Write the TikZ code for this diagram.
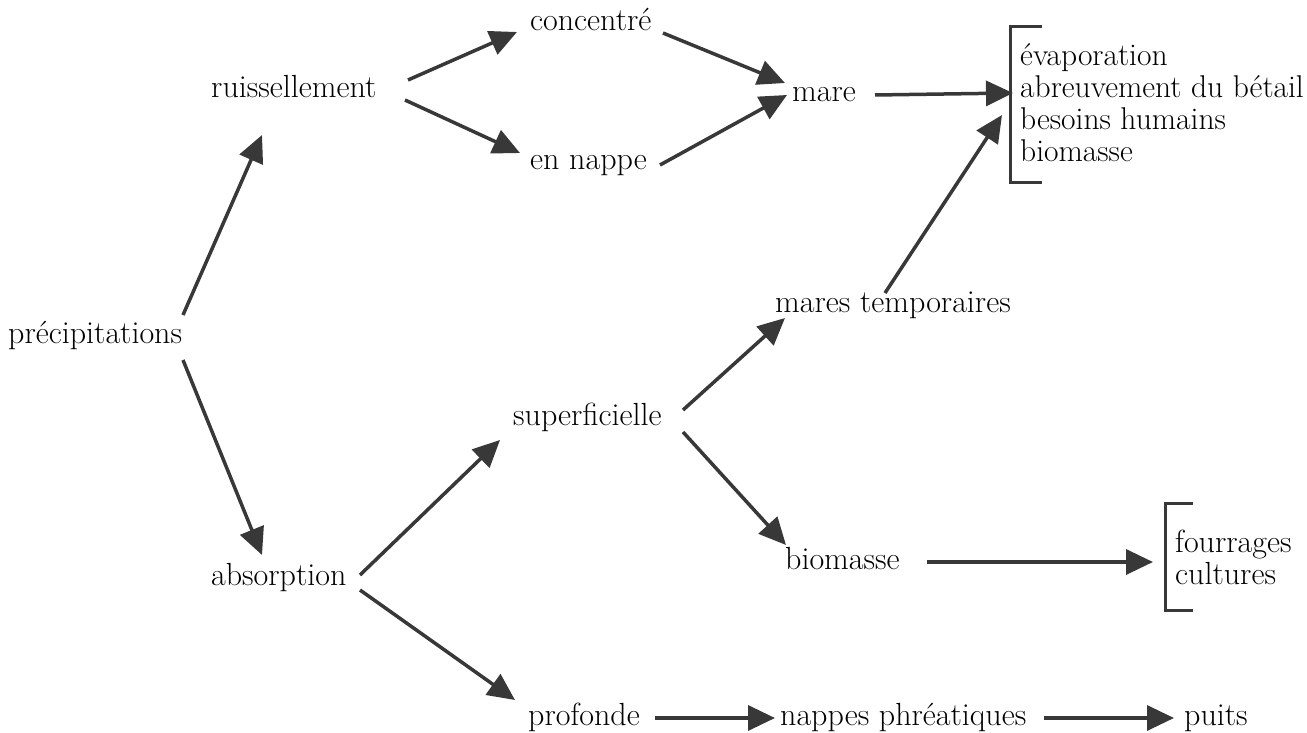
\documentclass[tikz,border=0pt]{standalone}
\usetikzlibrary{arrows.meta,calc}
\begin{document}
\begin{tikzpicture}[x=1pt,y=-1pt,
  lbl/.style={anchor=base west,inner sep=0pt,text=black,font=\fontsize{32}{32}\selectfont},
  arr/.style={draw=black!78,line width=3.5pt,-{Triangle[length=27pt,width=25pt]}},
  brk/.style={draw=black!78,line width=3pt}]
\useasboundingbox (0,0) rectangle (1307,733);
% nodes
\node[lbl] (prec) at (8,343) {précipitations};
\node[lbl] (ruis) at (211,98) {ruissellement};
\node[lbl] (abs) at (211,585) {absorption};
\node[lbl] (conc) at (530,31) {concentré};
\node[lbl] (enn) at (530,169) {en nappe};
\node[lbl] (mare) at (792,102) {mare};
\node[lbl] (mt) at (775,312) {mares temporaires};
\node[lbl] (sup) at (513,425) {superficielle};
\node[lbl] (bio) at (785,569) {biomasse};
\node[lbl] (prof) at (528,725) {profonde};
\node[lbl] (nap) at (780,725) {nappes phréatiques};
\node[lbl] (puits) at (1184,725) {puits};
\node[lbl,anchor=west,align=left,font=\fontsize{31.5}{32}\selectfont] (usages) at (1020,103) {évaporation\\abreuvement du bétail\\besoins humains\\biomasse};
\node[lbl,anchor=west,align=left] (prod) at (1175,557) {fourrages\\cultures};
% brackets
\coordinate (br1) at (1010,105);
\coordinate (br2) at (1165,556);
\draw[brk] ($(br1)+(32,-78)$) -- ($(br1)+(0,-78)$) -- ($(br1)+(0,78)$) -- ($(br1)+(32,78)$);
\draw[brk] ($(br2)+(28,-53)$) -- ($(br2)+(0,-53)$) -- ($(br2)+(0,54)$) -- ($(br2)+(28,54)$);
% arrows
\draw[arr] ($(prec.base west)+(175,-28)$) -- ($(ruis.base west)+(51,37)$);
\draw[arr] ($(prec.base west)+(175,17)$) -- ($(abs.base west)+(51,-30)$);
\draw[arr] ($(ruis.base west)+(197,-18)$) -- ($(conc.base west)+(-13,1)$);
\draw[arr] ($(ruis.base west)+(194,2)$) -- ($(enn.base west)+(-10,-16)$);
\draw[arr] ($(conc.base west)+(133,2)$) -- ($(mare.base west)+(-7,-19)$);
\draw[arr] ($(enn.base west)+(130,-4)$) -- ($(mare.base west)+(-5,-7)$);
\draw[arr] ($(mare.base west)+(83,-7)$) -- ($(br1)+(3,-12)$);
\draw[arr] ($(mt.base west)+(110,-19)$) -- ($(br1)+(-8,10)$);
\draw[arr] ($(abs.base west)+(149,-10)$) -- ($(sup.base west)+(-13,15)$);
\draw[arr] ($(abs.base west)+(149,5)$) -- ($(prof.base west)+(-13,-25)$);
\draw[arr] ($(sup.base west)+(170,-15)$) -- ($(mt.base west)+(10,6)$);
\draw[arr] ($(sup.base west)+(170,7)$) -- ($(bio.base west)+(1,-24)$);
\draw[arr] ($(bio.base west)+(142,-7)$) -- ($(br2)+(-12,6)$);
\draw[arr] ($(prof.base west)+(127,-7)$) -- ($(nap.base west)+(-5,-7)$);
\draw[arr] ($(nap.base west)+(264,-7)$) -- ($(puits.base west)+(-10,-7)$);
\end{tikzpicture}
\end{document}
